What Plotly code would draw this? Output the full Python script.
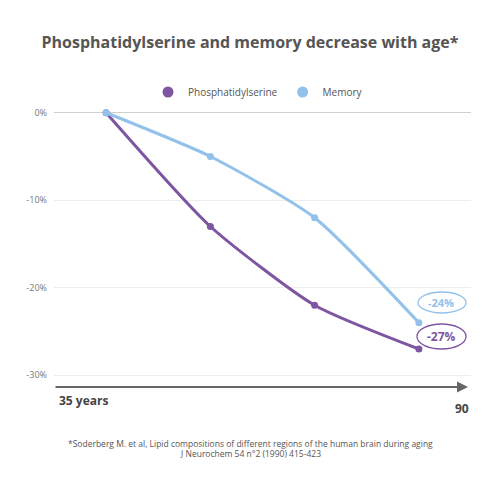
import plotly.graph_objects as go

ages = ["35", "50", "70", "90"]
phosphatidylserine = [0, -13, -22, -27]
memory = [0, -5, -12, -24]
y_ticks = [0, -10, -20, -30]
y_tick_labels = ["0%", "-10%", "-20%", "-30%"]
end_labels = ["-24%", "-27%"]
footnote = ["*Soderberg M. et al, Lipid compositions of different regions of the human brain during aging",
            "J Neurochem 54 n°2 (1990) 415-423"]

PURPLE = "#7E55A0"
BLUE = "#92C1EC"
FONT = "Open Sans"

x = list(range(len(ages)))
fig = go.Figure()
series = [("Phosphatidylserine", phosphatidylserine, PURPLE), ("Memory", memory, BLUE)]
for name, vals, col in series:
    fig.add_trace(go.Scatter(x=x, y=vals, name=name, showlegend=False,
                             mode="lines+markers", line=dict(color=col, width=3, shape="spline", smoothing=0.6),
                             marker=dict(size=7, color=col), cliponaxis=False))
for name, vals, col in series:
    fig.add_trace(go.Scatter(x=[None], y=[None], name=name, mode="markers",
                             marker=dict(size=11, color=col)))

def px(v):
    return (v - 54) / 417

def py(v):
    return (384 - v) / 280

fig.update_layout(
    width=500, height=500,
    paper_bgcolor="white", plot_bgcolor="white",
    margin=dict(l=54, r=29, t=104, b=116, autoexpand=False),
    font=dict(family=FONT, color="#666"),
    title=dict(text="<b>Phosphatidylserine and memory decrease with age*</b>",
               x=0.5, xanchor="center", y=1 - 42 / 500, yanchor="middle",
               font=dict(size=16, color="#555", family=FONT), automargin=False),
    legend=dict(orientation="h", x=px(258), xanchor="center", y=py(92), yanchor="middle",
                font=dict(size=10, color="#555"), bgcolor="rgba(0,0,0,0)", itemwidth=30,
                tracegroupgap=0),
    showlegend=True,
    xaxis=dict(range=[-0.5, 3.5], showgrid=False, zeroline=False, showticklabels=False,
               showline=False, fixedrange=True, automargin=False),
    yaxis=dict(range=[-31, 1], tickvals=y_ticks, ticktext=y_tick_labels,
               gridcolor="#ececec", gridwidth=1, zeroline=True, zerolinecolor="#cfcfcf",
               zerolinewidth=1, showline=False, tickfont=dict(size=9, color="#777"),
               ticks="", ticklabelstandoff=6, automargin=False, fixedrange=True),
)

shapes = [
    dict(type="circle", xref="paper", yref="paper", x0=px(418), x1=px(466), y0=py(313), y1=py(292),
         line=dict(color=BLUE, width=1.3)),
    dict(type="circle", xref="paper", yref="paper", x0=px(417), x1=px(466), y0=py(349), y1=py(324),
         line=dict(color=PURPLE, width=1.3)),
]
fig.update_layout(shapes=shapes)

ann = [
    dict(text="<b>" + end_labels[0] + "</b>", x=px(441), y=py(302), xref="paper", yref="paper",
         xanchor="center", yanchor="middle", showarrow=False, font=dict(size=11, color=BLUE)),
    dict(text="<b>" + end_labels[1] + "</b>", x=px(441), y=py(336), xref="paper", yref="paper",
         xanchor="center", yanchor="middle", showarrow=False, font=dict(size=12, color=PURPLE)),
    dict(text="", x=px(468), y=py(387), xref="paper", yref="paper", showarrow=True,
         ax=-(468 - 54), ay=0, arrowhead=2, arrowsize=1, arrowwidth=2.2, arrowcolor="#666"),
    dict(text="<b>" + ages[0] + " years</b>", x=px(57), y=py(400), xref="paper", yref="paper",
         xanchor="left", yanchor="middle", showarrow=False, font=dict(size=12, color="#444")),
    dict(text="<b>" + ages[-1] + "</b>", x=px(471), y=py(408), xref="paper", yref="paper",
         xanchor="right", yanchor="middle", showarrow=False, font=dict(size=12, color="#444")),
    dict(text=footnote[0], x=px(250), y=py(443), xref="paper", yref="paper", xanchor="center",
         yanchor="middle", showarrow=False, font=dict(size=8.5, color="#555")),
    dict(text=footnote[1], x=px(250), y=py(453), xref="paper", yref="paper", xanchor="center",
         yanchor="middle", showarrow=False, font=dict(size=8.5, color="#555")),
]
fig.update_layout(annotations=ann)

fig.write_html("out.html", config={"displayModeBar": False},
               post_script="document.body.style.margin='0';document.body.style.padding='0';")
